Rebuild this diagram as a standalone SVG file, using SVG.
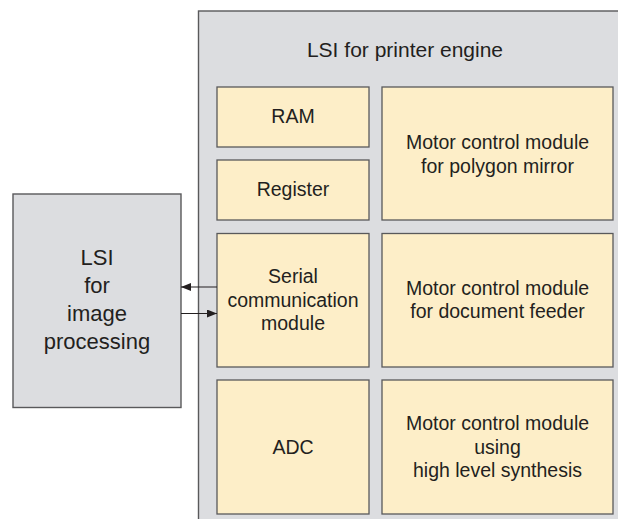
<svg xmlns="http://www.w3.org/2000/svg" width="618" height="519" viewBox="0 0 618 519">
<defs>
<style>
.gray{fill:#dcdde0;stroke:#59595b;stroke-width:1.4}
.mod{fill:#fdeec8;stroke:#59595b;stroke-width:1.3}
text{font-family:"Liberation Sans",Arial,sans-serif;fill:#231f20;text-anchor:middle}
.t{font-size:19.5px}
.big{font-size:22px}
.title{font-size:21px}
.conn{stroke:#231f20;stroke-width:1.2;fill:none}
</style>
<marker id="ah" viewBox="0 0 10 8" refX="10" refY="4" markerWidth="10" markerHeight="8" markerUnits="userSpaceOnUse" orient="auto">
<path d="M0,0 L10,4 L0,8 Z" fill="#231f20"/>
</marker>
</defs>
<g id="lsi-printer">
<rect class="gray" x="198.5" y="11" width="430" height="520"/>
<text class="title" x="405" y="57">LSI for printer engine</text>
</g>
<g id="ram">
<rect class="mod" x="217" y="87" width="152" height="60"/>
<text class="t" x="293" y="123">RAM</text>
</g>
<g id="register">
<rect class="mod" x="217" y="160" width="152" height="60"/>
<text class="t" x="293" y="196">Register</text>
</g>
<g id="motor-polygon">
<rect class="mod" x="382" y="87" width="231" height="133"/>
<text class="t" x="497.5" y="149">Motor control module</text>
<text class="t" x="497.5" y="172.5">for polygon mirror</text>
</g>
<g id="serial">
<rect class="mod" x="217" y="233.5" width="152" height="133.5"/>
<text class="t" x="293" y="283">Serial</text>
<text class="t" x="293" y="306.5">communication</text>
<text class="t" x="293" y="330">module</text>
</g>
<g id="motor-feeder">
<rect class="mod" x="382" y="233.5" width="231" height="133.5"/>
<text class="t" x="497.5" y="294.5">Motor control module</text>
<text class="t" x="497.5" y="318">for document feeder</text>
</g>
<g id="adc">
<rect class="mod" x="217" y="380" width="152" height="134"/>
<text class="t" x="293" y="453.5">ADC</text>
</g>
<g id="motor-hls">
<rect class="mod" x="382" y="380" width="231" height="134"/>
<text class="t" x="497.5" y="430">Motor control module</text>
<text class="t" x="497.5" y="453.5">using</text>
<text class="t" x="497.5" y="477">high level synthesis</text>
</g>
<g id="lsi-image">
<rect class="gray" x="13" y="194" width="168" height="213.5"/>
<text class="big" x="97" y="265">LSI</text>
<text class="big" x="97" y="293">for</text>
<text class="big" x="97" y="321">image</text>
<text class="big" x="97" y="349">processing</text>
</g>
<g id="connectors">
<line class="conn" x1="217" y1="287" x2="181" y2="287" marker-end="url(#ah)"/>
<line class="conn" x1="181" y1="313.5" x2="217" y2="313.5" marker-end="url(#ah)"/>
</g>
</svg>
